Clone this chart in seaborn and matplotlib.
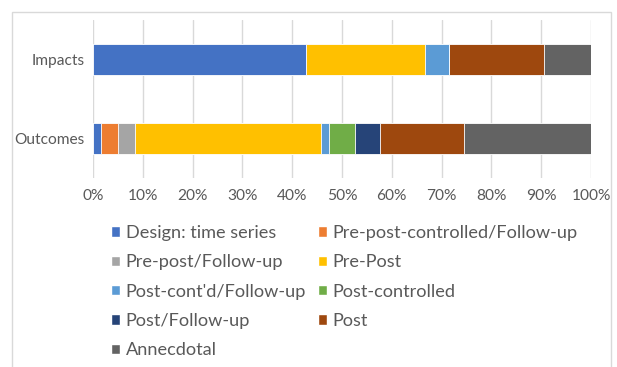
import numpy as np
import pandas as pd
import matplotlib
matplotlib.use("Agg")
import matplotlib.pyplot as plt
from matplotlib.patches import Rectangle
import seaborn as sns

# data (percent of each row)
groups = ["Impacts", "Outcomes"]
designs = ["Design: time series", "Pre-post-controlled/Follow-up",
           "Pre-post/Follow-up", "Pre-Post", "Post-cont'd/Follow-up",
           "Post-controlled", "Post/Follow-up", "Post", "Annecdotal"]
impacts = [42.86, 0, 0, 23.81, 4.76, 0, 0, 19.05, 9.52]
outcomes = [1.69, 3.39, 3.39, 37.29, 1.69, 5.08, 5.08, 16.95, 25.42]
colors = ["#4472C4", "#ED7D31", "#A5A5A5", "#FFC000", "#5B9BD5",
          "#70AD47", "#264478", "#9E480E", "#636363"]

sns.set_theme(style="white")
plt.rcParams["font.family"] = ["Lato", "DejaVu Sans"]
grey_txt = "#595959"

df = pd.DataFrame({"Impacts": impacts, "Outcomes": outcomes}, index=designs)
cum = df.cumsum()

fig = plt.figure(figsize=(6.17, 3.67), dpi=100)
fig.patches.append(Rectangle((12 / 617, -0.1), (611 - 12) / 617, 1 - 12 / 367 + 0.1,
                             transform=fig.transFigure, fill=False,
                             edgecolor="#d9d9d9", linewidth=1.0))
ax = fig.add_axes([93 / 617, 1 - 178 / 367, (591 - 93) / 617, (178 - 20) / 367])

# stacked bars: draw cumulative totals from the longest down
handles = {}
for i in range(len(designs) - 1, -1, -1):
    name = designs[i]
    d = pd.DataFrame({"group": groups, "value": cum.loc[name, groups].values})
    sns.barplot(data=d, x="value", y="group", orient="h", color=colors[i],
                width=0.4, ax=ax, saturation=1, linewidth=0.6,
                edgecolor="white", zorder=3)
    handles[name] = Rectangle((0, 0), 1, 1, facecolor=colors[i])

ax.set_xlim(0, 100)
ax.set_ylim(1.5, -0.5)
ax.set_xticks(np.arange(0, 101, 10))
ax.set_xticklabels([f"{t}%" for t in range(0, 101, 10)])
ax.set_xlabel("")
ax.set_ylabel("")
ax.grid(axis="x", color="#d9d9d9", linewidth=1.0, zorder=0)
ax.set_axisbelow(True)
for s in ax.spines.values():
    s.set_visible(False)
ax.tick_params(axis="both", length=0, labelsize=11.2, labelcolor=grey_txt)
ax.tick_params(axis="x", pad=8)
ax.tick_params(axis="y", pad=6)

order = [0, 2, 4, 6, 8, 1, 3, 5, 7]
leg = fig.legend([handles[designs[k]] for k in order],
                 [designs[k] for k in order],
                 loc="upper left", bbox_to_anchor=(102 / 617, 1 - 216 / 367),
                 ncol=2, frameon=False, fontsize=13.1,
                 handlelength=0.5, handleheight=0.5, handletextpad=0.3,
                 columnspacing=0.65, labelspacing=0.73, borderpad=0)
for t in leg.get_texts():
    t.set_color(grey_txt)

fig.savefig("out.png", dpi=100)
